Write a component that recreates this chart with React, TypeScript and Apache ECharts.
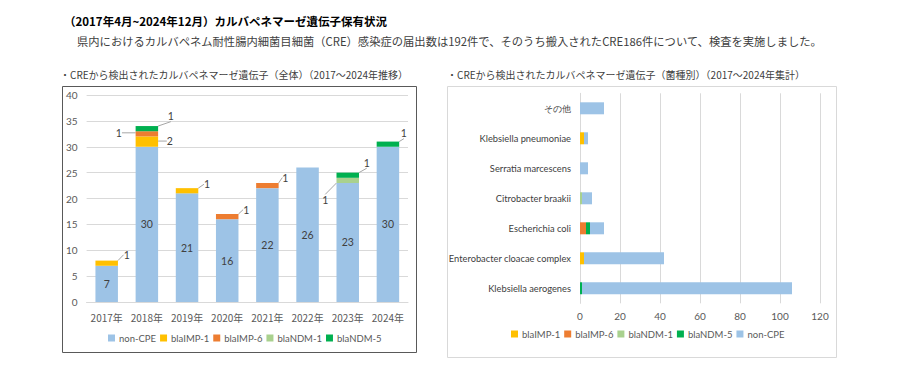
import React, { useEffect, useRef } from "react";
import * as echarts from "echarts";

const years = ["2017年", "2018年", "2019年", "2020年", "2021年", "2022年", "2023年", "2024年"];
const nonCPE = [7, 30, 21, 16, 22, 26, 23, 30];
const imp1 = [1, 2, 1, 0, 0, 0, 0, 0];
const imp6 = [0, 1, 0, 1, 1, 0, 0, 0];
const ndm1 = [0, 0, 0, 0, 0, 0, 1, 0];
const ndm5 = [0, 1, 0, 0, 0, 0, 1, 1];

const species = [
  "Klebsiella aerogenes",
  "Enterobacter cloacae complex",
  "Escherichia coli",
  "Citrobacter braakii",
  "Serratia marcescens",
  "Klebsiella pneumoniae",
  "その他",
];
const spImp1 = [0, 2, 0, 0, 0, 2, 0];
const spImp6 = [0, 0, 3, 0, 0, 0, 0];
const spNdm1 = [0, 0, 0, 1, 0, 0, 0];
const spNdm5 = [1, 0, 2, 0, 0, 0, 0];
const spNonCPE = [105, 40, 7, 5, 4, 2, 12];

const yearTicks = [0, 5, 10, 15, 20, 25, 30, 35, 40];
const countTicks = [0, 20, 40, 60, 80, 100, 120];

const COLORS: Record<string, string> = {
  "non-CPE": "#9DC3E6",
  "blaIMP-1": "#FFC000",
  "blaIMP-6": "#ED7D31",
  "blaNDM-1": "#A9D18E",
  "blaNDM-5": "#00B050",
};

// callout offsets (px) for left chart labels, relative to segment centre
const CALLOUT: Record<string, [number, number]> = {
  "blaIMP-1-0": [20, -8.5],
  "blaNDM-5-1": [24, -12.5],
  "blaIMP-6-1": [-28, -1],
  "blaIMP-1-1": [23, -0.5],
  "blaIMP-1-2": [20, -6.5],
  "blaIMP-6-3": [19, -7],
  "blaIMP-6-4": [18, -8],
  "blaNDM-1-6": [-22.5, 19.5],
  "blaNDM-5-6": [19, -12.5],
  "blaNDM-5-7": [16, -11],
};

const JP = '"Noto Sans CJK JP", "Noto Sans", sans-serif';
const LAT = 'Lato, "Noto Sans", sans-serif';

export default function App() {
  const ref = useRef<HTMLDivElement>(null);
  useEffect(() => {
    if (!ref.current) return;
    const chart = echarts.init(ref.current, null, { renderer: "svg" });

    const leftSeriesDefs: [string, number[]][] = [
      ["non-CPE", nonCPE],
      ["blaIMP-1", imp1],
      ["blaIMP-6", imp6],
      ["blaNDM-1", ndm1],
      ["blaNDM-5", ndm5],
    ];
    const rightSeriesDefs: [string, number[]][] = [
      ["blaIMP-1", spImp1],
      ["blaIMP-6", spImp6],
      ["blaNDM-1", spNdm1],
      ["blaNDM-5", spNdm5],
      ["non-CPE", spNonCPE],
    ];

    const leftSeries = leftSeriesDefs.map(([name, vals], si) => ({
      name,
      type: "bar",
      stack: "L",
      xAxisIndex: 0,
      yAxisIndex: 0,
      barWidth: "56%",
      itemStyle: { color: COLORS[name] },
      data: vals.map((v) => ({
        value: v,
        label: { show: v > 0 },
      })),
      label: {
        position: "inside",
        fontSize: 10.5,
        fontFamily: LAT,
        color: "#404040",
        formatter: (p: any) => (p.value > 0 ? String(p.value) : ""),
      },
      labelLine: si === 0 ? { show: false } : { show: true, lineStyle: { color: "#A6A6A6", width: 1 } },
      labelLayout:
        si === 0
          ? undefined
          : (params: any) => {
              const off = CALLOUT[name + "-" + params.dataIndex];
              if (!off) return {};
              return { dx: off[0], dy: off[1] };
            },
    }));

    const rightSeries = rightSeriesDefs.map(([name, vals]) => ({
      name,
      type: "bar",
      stack: "R",
      xAxisIndex: 1,
      yAxisIndex: 1,
      barWidth: "40%",
      itemStyle: { color: COLORS[name] },
      data: vals,
    }));

    const legendText = { fontSize: 9.5, color: "#595959", fontFamily: LAT, padding: [0, 0, 0, -1] };

    const option: any = {
      animation: false,
      textStyle: { fontFamily: JP },
      graphic: [
        {
          type: "text",
          left: 64,
          top: 15,
          style: {
            text: "（2017年4月~2024年12月）カルバペネマーゼ遺伝子保有状況",
            font: `bold 11.5px ${JP}`,
            fill: "#000",
          },
        },
        {
          type: "text",
          left: 77,
          top: 35,
          style: {
            text: "県内におけるカルバペネム耐性腸内細菌目細菌（CRE）感染症の届出数は192件で、そのうち搬入されたCRE186件について、検査を実施しました。",
            font: `11.3px ${JP}`,
            fill: "#404040",
          },
        },
        {
          type: "text",
          left: 60,
          top: 69,
          style: {
            text: "・CREから検出されたカルバペネマーゼ遺伝子（全体）（2017～2024年推移）",
            font: `10px ${JP}`,
            fill: "#404040",
          },
        },
        {
          type: "text",
          left: 447,
          top: 69,
          style: {
            text: "・CREから検出されたカルバペネマーゼ遺伝子（菌種別）（2017～2024年集計）",
            font: `10px ${JP}`,
            fill: "#404040",
          },
        },
        {
          type: "rect",
          shape: { x: 62.5, y: 86.5, width: 354, height: 266 },
          style: { fill: "none", stroke: "#595959", lineWidth: 1 },
          z: -1,
        },
        {
          type: "rect",
          shape: { x: 447.5, y: 86.5, width: 389, height: 271 },
          style: { fill: "none", stroke: "#D9D9D9", lineWidth: 1 },
          z: -1,
        },
      ],
      legend: [
        {
          data: ["non-CPE", "blaIMP-1", "blaIMP-6", "blaNDM-1", "blaNDM-5"],
          left: 108,
          top: 333,
          padding: 0,
          itemWidth: 7,
          itemHeight: 7,
          itemGap: 4,
          icon: "rect",
          textStyle: legendText,
          selectedMode: false,
        } as any,
        {
          data: ["blaIMP-1", "blaIMP-6", "blaNDM-1", "blaNDM-5", "non-CPE"],
          left: 511,
          top: 329,
          padding: 0,
          itemWidth: 7,
          itemHeight: 7,
          itemGap: 4,
          icon: "rect",
          textStyle: legendText,
          selectedMode: false,
        },
      ],
      grid: [
        { left: 86.6, right: 900 - 408, top: 95, bottom: 381 - 302 },
        { left: 580, right: 80, top: 93.3, bottom: 381 - 303.3 },
      ],
      xAxis: [
        {
          type: "category",
          gridIndex: 0,
          data: years,
          axisLine: { lineStyle: { color: "#D9D9D9" } },
          axisTick: { show: false },
          axisLabel: { fontSize: 10, color: "#595959", fontFamily: JP, margin: 10, interval: 0 },
        },
        {
          type: "value",
          gridIndex: 1,
          min: countTicks[0],
          max: countTicks[countTicks.length - 1],
          interval: countTicks[1] - countTicks[0],
          axisLine: { show: false },
          axisTick: { show: false },
          splitLine: { lineStyle: { color: "#D9D9D9" } },
          axisLabel: { fontSize: 10, color: "#595959", fontFamily: LAT, margin: 8 },
        },
      ],
      yAxis: [
        {
          type: "value",
          gridIndex: 0,
          min: yearTicks[0],
          max: yearTicks[yearTicks.length - 1],
          interval: yearTicks[1] - yearTicks[0],
          axisLine: { show: false },
          axisTick: { show: false },
          splitLine: { lineStyle: { color: "#D9D9D9" } },
          axisLabel: { fontSize: 10, color: "#595959", fontFamily: LAT, margin: 9 },
        },
        {
          type: "category",
          gridIndex: 1,
          data: species,
          axisLine: { lineStyle: { color: "#D9D9D9" } },
          axisTick: { show: false },
          axisLabel: { fontSize: 9.3, color: "#404040", fontFamily: LAT, margin: 9, interval: 0 },
        },
      ],
      series: [...leftSeries, ...rightSeries],
    };
    chart.setOption(option);
    return () => chart.dispose();
  }, []);

  return (
    <div
      ref={ref}
      style={{ position: "absolute", left: 0, top: 0, width: 900, height: 381, background: "#fff" }}
    />
  );
}
